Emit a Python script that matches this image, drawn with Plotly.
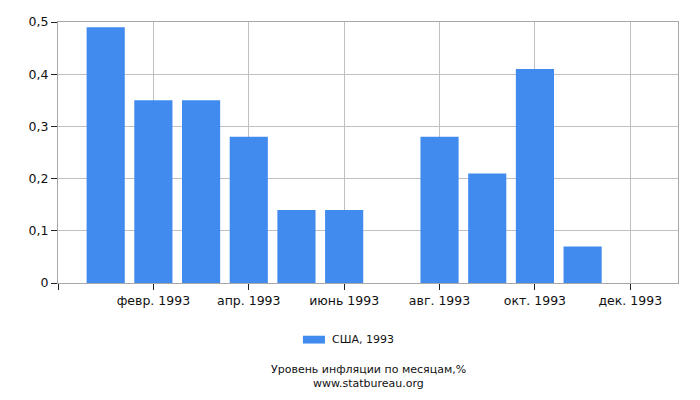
import plotly.graph_objects as go

months = [1, 2, 3, 4, 5, 6, 7, 8, 9, 10, 11, 12]
inflation = [0.49, 0.35, 0.35, 0.28, 0.14, 0.14, 0.0, 0.28, 0.21, 0.41, 0.07, 0.0]
tick_pos = [0, 2, 4, 6, 8, 10, 12]
tick_labels = ["", "февр. 1993", "апр. 1993", "июнь 1993", "авг. 1993", "окт. 1993", "дек. 1993"]
y_ticks = [0, 0.1, 0.2, 0.3, 0.4, 0.5]
series_name = "США, 1993"
bar_color = "#418BEF"

fig = go.Figure()
fig.add_trace(go.Bar(x=months, y=inflation, name=series_name,
                     marker_color=bar_color, marker_line_width=0,
                     width=0.8, showlegend=False))

# page body has an 8px margin, so the figure is a bit smaller than the window
fig.update_layout(
    width=692, height=392,
    margin=dict(l=50, r=22, t=14, b=117),
    plot_bgcolor="white", paper_bgcolor="white",
    separators=", ",
    font=dict(family="DejaVu Sans", size=12.5, color="#111"),
)
fig.update_xaxes(range=[0, 13], tickvals=tick_pos, ticktext=tick_labels,
                 showgrid=True, gridcolor="#C0C0C0", gridwidth=1,
                 showline=True, linecolor="#A8A8A8", mirror=True,
                 ticks="outside", ticklen=6, tickcolor="#222", zeroline=False,
                 automargin=False)
fig.update_yaxes(range=[0, 0.5], tickvals=y_ticks,
                 showgrid=True, gridcolor="#C0C0C0", gridwidth=1,
                 showline=True, linecolor="#A8A8A8", mirror=True,
                 ticks="outside", ticklen=6, tickcolor="#222", zeroline=False,
                 automargin=False)

# legend swatch + label
fig.add_shape(type="rect", xref="paper", yref="paper",
              x0=0.395, x1=0.4306, y0=-0.232, y1=-0.202,
              fillcolor=bar_color, line_width=0)
fig.add_annotation(text=series_name, xref="paper", yref="paper",
                   x=0.4387, y=-0.217, xanchor="left", yanchor="middle",
                   showarrow=False, font=dict(size=11, color="#111"))

fig.add_annotation(text="Уровень инфляции по месяцам,%",
                   xref="paper", yref="paper", x=0.5, y=-0.331, yanchor="middle",
                   showarrow=False, font=dict(size=11, color="#111"))
fig.add_annotation(text="www.statbureau.org",
                   xref="paper", yref="paper", x=0.5, y=-0.384, yanchor="middle",
                   showarrow=False, font=dict(size=11, color="#111"))

fig.write_html("out.html")
